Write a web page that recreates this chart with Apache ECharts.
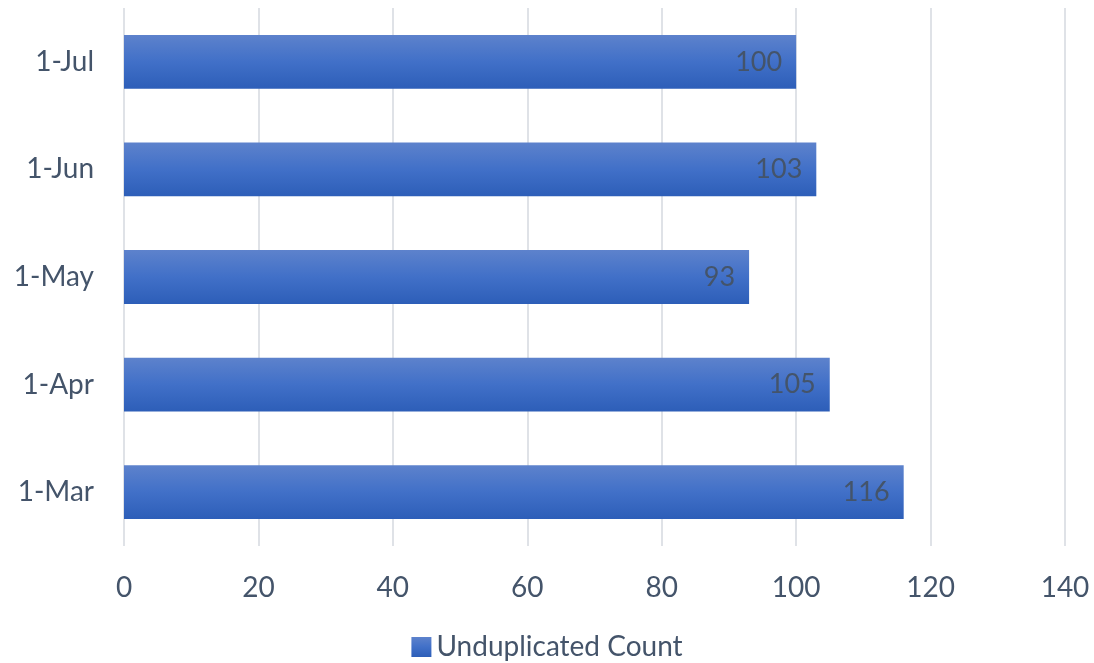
<!DOCTYPE html>
<html>
<head>
<meta charset="utf-8">
<script src="https://cdn.jsdelivr.net/npm/echarts@6/dist/echarts.min.js"></script>
<style>
  html, body { margin: 0; padding: 0; background: #fff; }
  #chart-container { width: 1094px; height: 663px; }
</style>
</head>
<body>
<div id="chart-container"></div>
<script>
// categories bottom to top, as drawn on the axis
const categories = ['1-Mar', '1-Apr', '1-May', '1-Jun', '1-Jul'];
const counts = [116, 105, 93, 103, 100];
const xTicks = [0, 20, 40, 60, 80, 100, 120, 140];

const textColor = '#44546a';
const font = 'Lato, "Open Sans", sans-serif';

const chart = echarts.init(document.getElementById('chart-container'));
chart.setOption({
    animation: false,
    grid: { left: 124, right: 29, top: 8, bottom: 117 },
    legend: {
        bottom: -3,
        left: 'center',
        icon: 'rect',
        itemWidth: 20,
        itemHeight: 20,
        itemGap: 6,
        textStyle: { fontSize: 28, color: textColor, fontFamily: font },
        data: ['Unduplicated Count']
    },
    xAxis: {
        type: 'value',
        min: xTicks[0],
        max: xTicks[xTicks.length - 1],
        interval: 20,
        axisLine: { show: false },
        axisTick: { show: false },
        splitLine: { lineStyle: { color: '#dfe2e7', width: 2 } },
        axisLabel: { fontSize: 28, color: textColor, fontFamily: font, margin: 28 }
    },
    yAxis: {
        type: 'category',
        data: categories,
        axisLine: { show: false },
        axisTick: { show: false },
        axisLabel: { fontSize: 28, color: textColor, fontFamily: font, margin: 30 }
    },
    series: [{
        name: 'Unduplicated Count',
        type: 'bar',
        data: counts,
        barWidth: '50%',
        itemStyle: {
            color: new echarts.graphic.LinearGradient(0, 0, 0, 1, [
                { offset: 0, color: '#5d82cc' },
                { offset: 0.5, color: '#4170c8' },
                { offset: 1, color: '#2d5eb8' }
            ])
        },
        label: {
            show: true,
            position: 'insideRight',
            distance: 14,
            fontSize: 27,
            color: textColor,
            fontFamily: font
        }
    }]
});
</script>
</body>
</html>
